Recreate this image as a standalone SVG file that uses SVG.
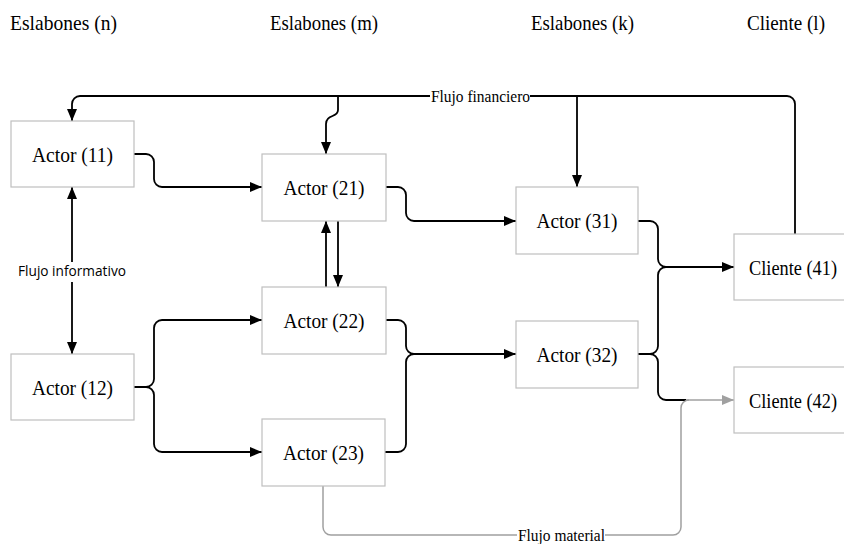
<svg xmlns="http://www.w3.org/2000/svg" width="844" height="544" viewBox="0 0 844 544">
<style>
.box{fill:#fff;stroke:#bfbfbf;stroke-width:1.2}
.lbl{font-size:22px;fill:#000;text-anchor:middle}
.hdr{font-size:22px;fill:#000}
.c{fill:none;stroke:#000;stroke-width:1.8}
.g{fill:none;stroke:#a0a0a0;stroke-width:1.5}
.small{font-size:17px;fill:#000}
.sans{font-size:14px;fill:#000}
</style>
<defs>
<marker id="ab" markerUnits="userSpaceOnUse" markerWidth="12" markerHeight="10" refX="12" refY="5" orient="auto"><path d="M0,0 L12,5 L0,10 z" fill="#000"/></marker>
<marker id="ag" markerUnits="userSpaceOnUse" markerWidth="12" markerHeight="10" refX="12" refY="5" orient="auto"><path d="M0,0 L12,5 L0,10 z" fill="#a0a0a0"/></marker>
</defs>
<g font-family="Liberation Serif, Times New Roman, serif">
<g id="headers">
<text class="hdr" x="10" y="30" textLength="107" lengthAdjust="spacingAndGlyphs">Eslabones (n)</text>
<text class="hdr" x="270" y="30" textLength="108" lengthAdjust="spacingAndGlyphs">Eslabones (m)</text>
<text class="hdr" x="531" y="30" textLength="103" lengthAdjust="spacingAndGlyphs">Eslabones (k)</text>
<text class="hdr" x="747" y="30" textLength="78" lengthAdjust="spacingAndGlyphs">Cliente (l)</text>
</g>
<g id="connectors">
<path class="c" d="M795,234 V104 A8,8 0 0 0 787,96 H530"/>
<path class="c" d="M430,96 H80 A8,8 0 0 0 72,104 V121" marker-end="url(#ab)"/>
<path class="c" d="M338,96 V110 C338,118 326,114 326,124 V154" marker-end="url(#ab)"/>
<path class="c" d="M577,96 V187" marker-end="url(#ab)"/>
<path class="c" d="M134,154 H146 A8,8 0 0 1 154,162 V179 A8,8 0 0 0 162,187 H262" marker-end="url(#ab)"/>
<path class="c" d="M386,187 H398 A8,8 0 0 1 406,195 V213 A8,8 0 0 0 414,221 H516" marker-end="url(#ab)"/>
<path class="c" d="M326,287 V221" marker-end="url(#ab)"/>
<path class="c" d="M338,221 V287" marker-end="url(#ab)"/>
<path class="c" d="M72,262 V187" marker-end="url(#ab)"/>
<path class="c" d="M72,282 V354" marker-end="url(#ab)"/>
<path class="c" d="M134,387 H146 A8,8 0 0 0 154,379 V328 A8,8 0 0 1 162,320 H262" marker-end="url(#ab)"/>
<path class="c" d="M134,387 H146 A8,8 0 0 1 154,395 V444 A8,8 0 0 0 162,452 H262" marker-end="url(#ab)"/>
<path class="c" d="M386,320 H398 A8,8 0 0 1 406,328 V346 A8,8 0 0 0 414,354 H516" marker-end="url(#ab)"/>
<path class="c" d="M385,452 H398 A8,8 0 0 0 406,444 V362 A8,8 0 0 1 414,354"/>
<path class="c" d="M638,221 H650 A8,8 0 0 1 658,229 V259 A8,8 0 0 0 666,267 H734" marker-end="url(#ab)"/>
<path class="c" d="M638,354 H650 A8,8 0 0 0 658,346 V275 A8,8 0 0 1 666,267"/>
<path class="c" d="M638,354 H650 A8,8 0 0 1 658,362 V392 A8,8 0 0 0 666,400 H686"/>
<path class="g" d="M686,400 H734" marker-end="url(#ag)"/>
<path class="g" d="M323,486 V527 A8,8 0 0 0 331,535 H517"/>
<path class="g" d="M605,535 H673 A8,8 0 0 0 681,527 V408 A8,8 0 0 1 689,400"/>
<text class="small" x="431" y="102" textLength="99" lengthAdjust="spacingAndGlyphs">Flujo financiero</text>
<text class="small" x="518" y="541" textLength="87" lengthAdjust="spacingAndGlyphs">Flujo material</text>
<text class="sans" font-family="Open Sans, Liberation Sans, sans-serif" x="18" y="276" textLength="108" lengthAdjust="spacingAndGlyphs">Flujo informativo</text>
</g>
<g id="actor11"><rect class="box" x="11" y="121" width="123" height="66"/><text class="lbl" x="72.5" y="162" textLength="81" lengthAdjust="spacingAndGlyphs">Actor (11)</text></g>
<g id="actor12"><rect class="box" x="11" y="354" width="123" height="66"/><text class="lbl" x="72.5" y="395" textLength="81" lengthAdjust="spacingAndGlyphs">Actor (12)</text></g>
<g id="actor21"><rect class="box" x="262" y="154" width="124" height="67"/><text class="lbl" x="324" y="195" textLength="81" lengthAdjust="spacingAndGlyphs">Actor (21)</text></g>
<g id="actor22"><rect class="box" x="262" y="287" width="124" height="67"/><text class="lbl" x="324" y="328" textLength="81" lengthAdjust="spacingAndGlyphs">Actor (22)</text></g>
<g id="actor23"><rect class="box" x="262" y="419" width="123" height="67"/><text class="lbl" x="323.5" y="460" textLength="81" lengthAdjust="spacingAndGlyphs">Actor (23)</text></g>
<g id="actor31"><rect class="box" x="516" y="187" width="122" height="67"/><text class="lbl" x="577" y="228" textLength="81" lengthAdjust="spacingAndGlyphs">Actor (31)</text></g>
<g id="actor32"><rect class="box" x="516" y="321" width="122" height="67"/><text class="lbl" x="577" y="362" textLength="81" lengthAdjust="spacingAndGlyphs">Actor (32)</text></g>
<g id="cliente41"><rect class="box" x="734" y="234" width="122" height="66"/><text class="lbl" x="793" y="275" textLength="88" lengthAdjust="spacingAndGlyphs">Cliente (41)</text></g>
<g id="cliente42"><rect class="box" x="734" y="367" width="122" height="66"/><text class="lbl" x="793" y="408" textLength="88" lengthAdjust="spacingAndGlyphs">Cliente (42)</text></g>
</g>
</svg>
